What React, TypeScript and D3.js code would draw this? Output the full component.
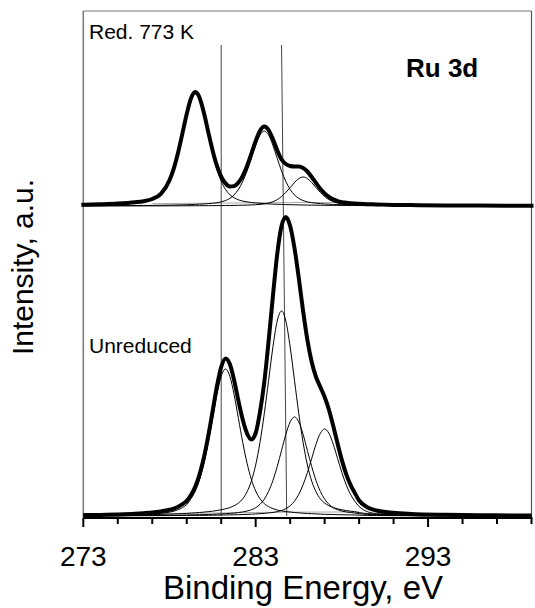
import React from "react";
import * as d3 from "d3";

// Binding energy grid (eV)
const energy = [273, 274, 275, 276, 276.5, 277, 277.5, 278, 278.25, 278.5, 278.75, 279, 279.25, 279.5, 279.75, 280, 280.25, 280.5, 280.75, 281, 281.25, 281.5, 281.75, 282, 282.25, 282.5, 282.75, 283, 283.25, 283.5, 283.75, 284, 284.25, 284.5, 284.75, 285, 285.25, 285.5, 285.75, 286, 286.25, 286.5, 286.75, 287, 287.25, 287.5, 287.75, 288, 288.25, 288.5, 288.75, 289, 289.5, 290, 291, 292, 294, 296, 299];

// Red. 773 K spectrum (a.u., relative to its own baseline)
const redTotal = [1.2, 1.7, 2.4, 3.7, 4.8, 7.0, 12.2, 25.8, 37.7, 53.6, 72.6, 92.0, 107.7, 113.9, 108.1, 92.9, 73.9, 55.6, 40.3, 29.4, 22.6, 19.5, 19.9, 23.5, 30.2, 40.1, 52.3, 65.0, 75.3, 79.5, 76.0, 66.8, 55.8, 46.5, 42, 40, 39.5, 39.5, 38, 34.5, 29, 23, 17.2, 12.6, 9.1, 6.6, 4.9, 3.9, 3.3, 2.8, 2.5, 2.2, 1.8, 1.6, 1.1, 0.9, 0.6, 0.4, 0.3];
const redPeak1 = [0.9, 1.3, 1.9, 3.1, 4.1, 6.2, 11.3, 24.8, 36.6, 52.4, 71.2, 90.5, 106, 112, 106, 90.5, 71.2, 52.4, 36.6, 24.8, 16.6, 11.3, 8.2, 6.2, 4.9, 4.1, 3.5, 3.1, 2.7, 2.4, 2.1, 1.9, 1.7, 1.6, 1.4, 1.3, 1.2, 1.1, 1.0, 0.9, 0.87, 0.8, 0.75, 0.7, 0.66, 0.63, 0.6, 0.55, 0.52, 0.5, 0.48, 0.45, 0.4, 0.37, 0.3, 0.26, 0.19, 0.15, 0.1];
const redPeak2 = [0.25, 0.3, 0.37, 0.47, 0.54, 0.63, 0.74, 0.87, 0.95, 1.04, 1.16, 1.28, 1.43, 1.6, 1.8, 2.06, 2.36, 2.78, 3.3, 4.1, 5.5, 7.6, 11.1, 16.6, 24.5, 35.1, 47.7, 60.6, 71, 75, 71, 60.6, 47.7, 35.1, 24.5, 16.6, 11.1, 7.6, 5.5, 4.1, 3.3, 2.78, 2.36, 2.06, 1.8, 1.6, 1.43, 1.28, 1.16, 1.04, 0.95, 0.87, 0.74, 0.63, 0.47, 0.37, 0.25, 0.19, 0.12];
const redPeak3 = [0.06, 0.08, 0.09, 0.11, 0.12, 0.13, 0.15, 0.17, 0.18, 0.19, 0.21, 0.23, 0.24, 0.26, 0.28, 0.31, 0.34, 0.37, 0.4, 0.45, 0.5, 0.55, 0.62, 0.7, 0.8, 0.91, 1.07, 1.28, 1.6, 2.1, 2.9, 4.3, 6.4, 9.5, 13.6, 18.4, 23.4, 27.4, 29, 27.4, 23.4, 18.4, 13.6, 9.5, 6.4, 4.3, 2.9, 2.1, 1.6, 1.28, 1.07, 0.91, 0.7, 0.55, 0.37, 0.26, 0.15, 0.1, 0.06];

// Unreduced spectrum
const unredTotal = [0.9, 1.1, 1.5, 2.2, 2.8, 3.5, 4.6, 6.2, 7.4, 9.3, 11.8, 15.2, 21.0, 29.5, 42.0, 58.8, 80.1, 104.6, 129.6, 149.0, 157.6, 152.0, 135.8, 115.0, 96.2, 82.5, 76.5, 83, 104, 134, 175, 220, 262, 290, 299, 290, 268, 238, 205, 176, 154, 139, 129, 119, 106.3, 90.0, 72.4, 55.9, 41.9, 31.1, 23.1, 15.5, 8.5, 5.5, 3.2, 2.1, 1.2, 0.8, 0.5];
const unredPeak1 = [0.4, 0.5, 0.75, 1.15, 1.5, 2.0, 2.8, 3.8, 4.8, 6.3, 8.4, 11.4, 17.3, 25, 36.6, 52.8, 73.5, 97.3, 121.3, 139.8, 147, 139.8, 121.3, 97.3, 73.5, 52.8, 36.6, 25, 17.3, 12.3, 9.3, 7.4, 6.0, 5.1, 4.4, 4.0, 3.5, 3.1, 2.8, 2.5, 2.3, 2.1, 1.9, 1.7, 1.6, 1.5, 1.35, 1.26, 1.18, 1.1, 1.03, 0.8, 0.6, 0.5, 0.35, 0.25, 0.18, 0.12, 0.08];
const unredPeak2 = [0.6, 0.74, 0.9, 1.1, 1.3, 1.4, 1.6, 1.9, 2.05, 2.2, 2.4, 2.6, 2.9, 3.2, 3.5, 3.9, 4.3, 4.8, 5.5, 6.2, 7.2, 8.4, 10.3, 12.9, 17.2, 24.2, 34.9, 51, 73.6, 102.5, 135.7, 169.1, 195, 205, 195, 169.1, 135.7, 102.5, 73.6, 51, 34.9, 24.2, 17.2, 12.9, 10.3, 8.4, 7.2, 6.2, 5.5, 4.8, 4.3, 3.4, 2.4, 1.7, 1.0, 0.7, 0.4, 0.25, 0.15];
const unredPeak3 = [0.27, 0.31, 0.38, 0.46, 0.51, 0.57, 0.65, 0.74, 0.79, 0.85, 0.91, 0.99, 1.07, 1.17, 1.27, 1.39, 1.52, 1.68, 1.88, 2.08, 2.33, 2.67, 2.97, 3.47, 4.06, 4.95, 6.24, 8.3, 11.7, 16.8, 24.7, 35.5, 49.5, 65.5, 81.7, 94.1, 99, 94.1, 81.7, 65.5, 49.5, 35.5, 24.7, 16.8, 11.7, 8.3, 6.24, 4.95, 4.06, 3.47, 2.97, 2.3, 1.6, 1.1, 0.7, 0.45, 0.25, 0.15, 0.1];
const unredPeak4 = [0.17, 0.21, 0.24, 0.29, 0.31, 0.35, 0.38, 0.43, 0.45, 0.48, 0.5, 0.54, 0.57, 0.61, 0.65, 0.7, 0.75, 0.8, 0.87, 0.94, 1.03, 1.11, 1.22, 1.34, 1.48, 1.65, 1.83, 2.04, 2.35, 2.61, 3.05, 3.57, 4.35, 5.48, 7.3, 10.3, 14.8, 21.7, 31.2, 43.5, 57.6, 71.8, 82.7, 87, 82.7, 71.8, 57.6, 43.5, 31.2, 21.7, 14.8, 9.5, 4.2, 2.4, 1.2, 0.7, 0.35, 0.2, 0.1];

// Background curves (short range)
const bgEnergy = [277, 279, 281, 283, 285, 287, 289];
const redBackground = [2.4, 2.6, 2.9, 3.2, 3.4, 3.5, 3.5];
const unredBackground = [2.4, 2.7, 3.1, 3.5, 3.8, 4.0, 4.0];

// Offsets of the two spectra (a.u.)
const spectrumOffsets = [312, 2];

// Reference lines: energy at top and bottom end
const refLineTop = [281.0, 284.5];
const refLineBottom = [281.0, 284.8];
const refLineExtent = [473, 2];

const xTicks = [273, 275, 277, 279, 281, 283, 285, 287, 289, 291, 293, 295, 297, 299];
const xTickLabels = [273, 283, 293];

const FONT = "'Liberation Sans', Arial, sans-serif";

export default function App() {
  const x = d3.scaleLinear().domain([273, 299]).range([83.3, 531.5]);
  const y = d3.scaleLinear().domain([0, 507]).range([518, 11]);

  const mk = (vals: number[], off: number, xs: number[] = energy) =>
    d3
      .line<number>()
      .x((_, i) => x(xs[i]))
      .y((v) => y(v + off))
      .curve(d3.curveMonotoneX)(vals) || "";

  const [topOff, botOff] = spectrumOffsets;
  const comps: [number[], number][] = [
    [redPeak1, topOff],
    [redPeak2, topOff],
    [redPeak3, topOff],
    [unredPeak1, botOff],
    [unredPeak2, botOff],
    [unredPeak3, botOff],
    [unredPeak4, botOff],
  ];

  return (
    <svg
      width={535}
      height={608}
      style={{ position: "absolute", left: 0, top: 0, background: "#fff" }}
      fontFamily={FONT}
    >
      <rect x={0} y={0} width={535} height={608} fill="#fff" />
      {/* frame */}
      <line x1={x(273)} x2={x(299)} y1={11} y2={11} stroke="#777" strokeWidth={1.2} />
      <line x1={x(299)} x2={x(299)} y1={11} y2={518} stroke="#555" strokeWidth={1.2} />
      <line x1={x(273)} x2={x(273)} y1={11} y2={518} stroke="#777" strokeWidth={1.5} />

      {/* background curves */}
      <path d={mk(redBackground, topOff, bgEnergy)} fill="none" stroke="#aaa" strokeWidth={1} />
      <path d={mk(unredBackground, botOff, bgEnergy)} fill="none" stroke="#aaa" strokeWidth={1} />

      {/* reference lines */}
      {refLineTop.map((e, i) => (
        <line
          key={"ref" + i}
          x1={x(e)}
          x2={x(refLineBottom[i])}
          y1={y(refLineExtent[0])}
          y2={y(refLineExtent[1])}
          stroke="#444"
          strokeWidth={1}
        />
      ))}

      {/* components */}
      {comps.map(([vals, off], i) => (
        <path key={"c" + i} d={mk(vals, off)} fill="none" stroke="#000" strokeWidth={1} />
      ))}

      {/* totals */}
      <path d={mk(redTotal, topOff)} fill="none" stroke="#000" strokeWidth={4} strokeLinejoin="round" strokeLinecap="square" />
      <path d={mk(unredTotal, botOff)} fill="none" stroke="#000" strokeWidth={4} strokeLinejoin="round" />

      {/* x axis */}
      <line x1={x(273)} x2={x(299) + 1} y1={518} y2={518} stroke="#000" strokeWidth={2} />
      {xTicks.map((t) => (
        <line
          key={"t" + t}
          x1={x(t)}
          x2={x(t)}
          y1={518}
          y2={518 + (xTickLabels.includes(t) ? 9 : 6)}
          stroke="#000"
          strokeWidth={2}
        />
      ))}
      {xTickLabels.map((t) => (
        <text key={"l" + t} x={x(t)} y={566} fontSize={28} textAnchor="middle" fill="#000">
          {t}
        </text>
      ))}
      <text x={303} y={599} fontSize={33} textAnchor="middle" fill="#000">
        Binding Energy, eV
      </text>
      <text
        transform="translate(33,267) rotate(-90)"
        fontSize={30}
        textAnchor="middle"
        fill="#000"
      >
        Intensity, a.u.
      </text>

      {/* annotations */}
      <text x={89} y={39} fontSize={21} fill="#000">
        Red. 773 K
      </text>
      <text x={406} y={77} fontSize={26} fontWeight="bold" fill="#000">
        Ru 3d
      </text>
      <text x={89} y={353} fontSize={21} fill="#000">
        Unreduced
      </text>
    </svg>
  );
}
